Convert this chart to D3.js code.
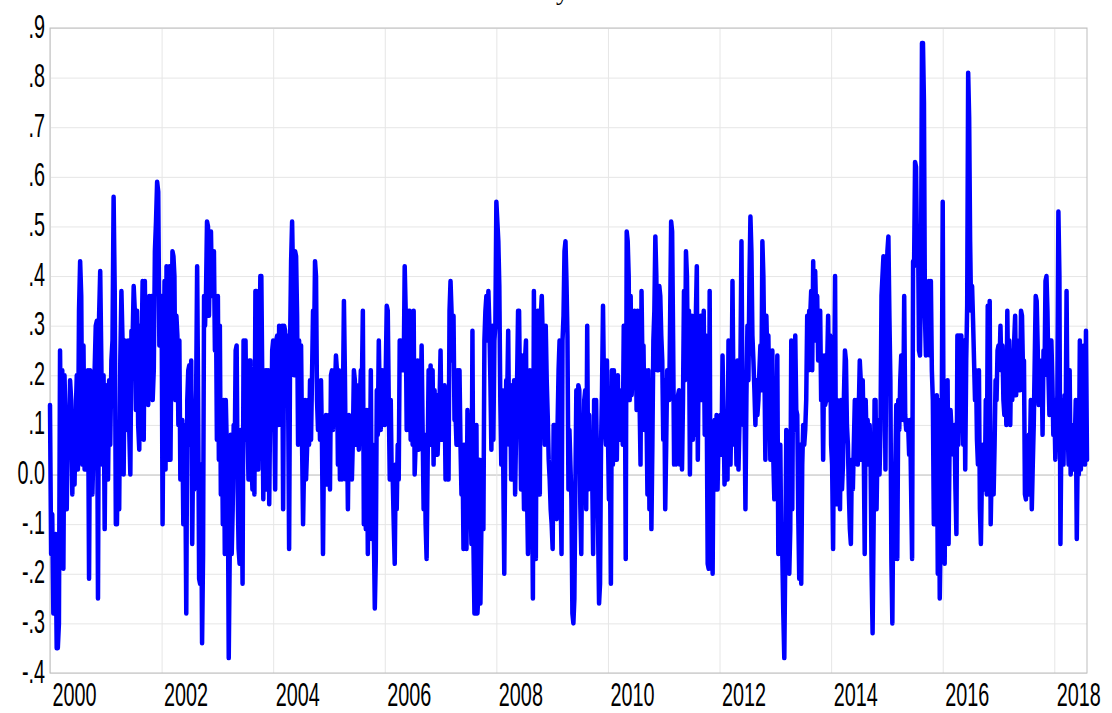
<!DOCTYPE html>
<html><head><meta charset="utf-8">
<script src="https://cdn.jsdelivr.net/npm/d3@7"></script>
<style>
html,body{margin:0;padding:0;background:#fff;}
svg{display:block;}
</style></head>
<body>
<svg id="chart" width="1112" height="713"></svg>
<script>
// ---- data ----
const yTicks = [0.9,0.8,0.7,0.6,0.5,0.4,0.3,0.2,0.1,0.0,-0.1,-0.2,-0.3,-0.4];
const yTickLabels = [".9",".8",".7",".6",".5",".4",".3",".2",".1","0.0","-.1","-.2","-.3","-.4"];
const xTickYears = [2000,2002,2004,2006,2008,2010,2012,2014,2016,2018];
const xTickLabels = ["2000","2002","2004","2006","2008","2010","2012","2014","2016","2018"];
const seriesStart = 2000.0;
const seriesEnd = 2018.586;
const titleText = "y";

// values, evenly spaced within each two-year block (roughly weekly)
const v2000 = [0.14,-0.16,-0.08,-0.28,-0.16,-0.12,-0.35,-0.35,-0.30,0.25,0.02,0.21,-0.19,0.20,0.10,-0.07,0.10,0.05,0.19,0.15,-0.04,0.11,-0.02,0.12,0.20,0.01,0.33,0.43,0.36,0.02,0.26,0.01,0.20,0.05,0.21,-0.21,0.21,0.20,-0.04,0.06,0.21,0.30,0.31,-0.25,0.32,0.41,0.23,0.02,0.20,-0.11,0.17,0.18,-0.01,0.19,0.06,0.23,0.27,0.56,0.37,-0.10,-0.10,0.09,-0.07,0.23,0.37,0.27,0.00,0.27,0.15,0.09,0.27,0.09,0.00,0.29,0.27,0.38,0.33,0.13,0.33,0.10,0.05,0.30,0.24,0.39,0.07,0.39,0.15,0.32,0.14,0.36,0.16,0.36,0.15,0.21,0.45,0.51,0.59,0.57,0.26,0.36];
const v2002 = [0.36,-0.10,0.19,0.39,0.01,0.42,0.40,0.03,0.42,0.03,0.28,0.45,0.44,0.40,0.15,0.32,0.28,0.10,0.27,-0.01,0.11,0.11,-0.10,0.10,0.02,-0.28,0.15,0.21,0.22,0.06,0.23,-0.14,0.06,-0.03,0.09,0.17,0.42,0.15,-0.21,-0.22,0.02,-0.34,-0.16,0.36,0.30,0.37,0.51,0.50,0.32,0.44,0.49,0.36,0.37,0.45,0.25,0.36,0.07,0.36,0.03,0.30,-0.04,0.12,-0.10,0.15,-0.16,0.15,0.06,0.01,-0.37,-0.16,0.08,-0.16,-0.07,0.10,0.03,0.25,0.26,-0.03,-0.15,-0.18,0.09,0.01,-0.22,0.27,0.15,0.27,0.07,0.09,-0.01,0.23,0.23,0.03,-0.03,0.07,-0.04,0.37,0.37,0.15,0.01,0.21,0.40,0.40,0.18,-0.05,0.21,-0.03,0.21,-0.02,0.21,-0.06,0.15,0.09,0.25];
const v2004 = [0.27,0.13,-0.03,0.27,0.28,0.10,0.30,0.27,0.10,0.30,-0.07,0.30,0.29,0.15,0.28,0.16,-0.15,0.27,0.43,0.51,0.39,0.20,0.45,0.44,0.32,0.06,0.27,0.21,0.26,0.06,-0.10,0.02,0.15,-0.01,0.05,0.15,0.06,0.19,0.07,0.20,0.33,0.25,0.43,0.40,0.15,0.09,0.18,0.07,0.19,0.06,-0.16,0.06,0.02,0.12,-0.02,0.02,0.12,-0.03,0.20,0.21,0.09,0.21,0.17,0.24,0.21,0.02,0.21,-0.01,0.10,-0.01,0.15,0.35,0.20,-0.01,0.11,-0.07,0.12,0.09,0.11,-0.01,0.07,0.21,0.19,0.06,0.18,0.11,0.05,0.15,0.21,0.18,0.33,-0.10,-0.01,-0.11,0.13,-0.16,0.11,-0.03,0.21,-0.13,0.06,-0.11,-0.27,-0.17,0.17,0.08,0.27,0.15,0.09,0.21,0.12,0.21];
const v2006 = [0.10,0.21,0.34,0.33,0.15,-0.01,0.15,-0.01,-0.01,-0.10,-0.18,0.02,-0.07,0.06,-0.01,0.27,0.27,0.21,0.27,0.21,0.42,0.33,0.09,0.33,0.09,0.33,0.07,0.15,0.06,0.33,0.00,0.06,0.13,0.23,0.05,0.22,0.13,0.26,0.09,-0.07,0.08,-0.10,-0.17,0.02,0.21,0.13,0.22,0.06,0.21,0.02,0.17,0.06,0.16,0.04,0.10,0.15,0.25,0.07,0.17,0.07,0.18,-0.01,0.15,-0.01,-0.01,0.33,0.39,0.33,0.23,0.32,0.11,0.12,0.06,0.21,0.06,0.21,0.06,-0.04,0.06,-0.15,0.06,0.02,-0.15,0.13,-0.04,0.12,-0.05,-0.14,0.29,-0.14,-0.28,-0.13,0.10,-0.28,-0.24,0.03,-0.26,-0.10,0.03,-0.11,0.27,0.33,0.36,0.27,0.37,0.30,0.19,0.05,0.30,0.07,0.27,0.30];
const v2008 = [0.55,0.51,0.47,0.38,0.15,0.02,0.17,0.01,-0.20,0.06,0.19,0.16,0.29,0.06,0.18,-0.01,0.18,-0.01,0.19,-0.04,0.09,0.19,0.33,0.33,0.15,-0.03,0.24,0.07,-0.07,0.23,0.27,-0.03,-0.16,0.06,0.21,0.13,0.01,-0.25,0.37,0.06,-0.17,0.32,0.33,0.16,-0.04,0.32,0.36,0.27,0.15,0.06,0.30,0.19,0.12,0.03,-0.01,-0.07,-0.10,-0.15,0.10,0.10,-0.04,-0.09,0.10,0.21,0.27,-0.03,-0.16,0.27,0.32,0.45,0.47,0.39,0.28,-0.03,0.09,0.02,-0.05,-0.28,-0.30,-0.25,-0.03,0.17,0.02,0.18,0.17,-0.06,-0.16,0.10,0.03,0.15,0.17,-0.07,0.30,-0.03,0.12,-0.01,0.08,0.01,-0.16,0.15,-0.01,0.15,0.01,-0.11,-0.26,-0.22,0.06,0.17,0.34,0.17,0.10,0.06,0.23];
const v2010 = [0.08,-0.05,0.03,-0.22,0.21,0.02,0.21,0.06,0.19,0.03,0.20,0.07,0.15,0.07,0.17,0.06,0.30,0.27,-0.17,0.49,0.47,0.40,0.15,0.36,0.16,0.21,0.25,0.33,0.32,0.13,0.33,0.23,0.15,0.02,0.37,0.21,0.26,0.09,0.21,0.13,-0.04,0.21,-0.07,0.19,-0.11,0.06,0.27,0.33,0.48,0.40,0.21,0.21,0.38,0.36,0.28,0.23,0.07,0.19,-0.07,0.06,0.21,0.18,0.15,0.32,0.51,0.49,0.27,0.02,0.04,0.02,0.03,0.16,0.17,0.02,0.16,0.01,0.15,0.37,0.19,0.45,0.40,0.21,0.33,0.00,0.23,0.32,0.07,0.24,0.08,0.32,0.42,0.03,0.27,0.15,0.32,0.32,0.15,0.33,0.08,0.28,0.15,-0.18,-0.19,0.37,-0.18,0.06,-0.20,0.09,0.11,-0.03,0.12,-0.03,0.08];
const v2012 = [0.06,0.12,0.04,0.24,0.13,-0.02,0.02,0.10,-0.01,0.27,0.10,0.02,0.15,0.39,0.15,0.06,0.15,0.02,0.23,0.01,0.10,0.23,0.47,0.16,0.10,0.15,-0.07,0.16,0.30,0.19,0.39,0.52,0.45,0.28,0.23,0.17,0.10,0.19,0.12,0.15,0.21,0.26,0.17,0.47,0.40,0.23,0.03,0.32,0.23,0.28,0.15,0.03,0.18,0.25,0.03,-0.05,0.18,0.06,0.24,-0.16,-0.03,0.06,-0.16,-0.16,-0.28,-0.37,-0.16,0.09,-0.18,0.08,-0.20,-0.11,0.27,-0.07,0.26,0.09,0.28,0.13,0.12,-0.08,-0.21,0.06,-0.22,0.02,0.10,0.06,0.09,0.15,0.32,0.21,0.33,0.32,0.37,0.21,0.43,0.27,0.41,0.32,0.36,0.23,0.23,0.33,0.15,0.22,0.03,0.24,0.14,0.15,0.22,0.32,0.15,0.28];
const v2014 = [0.06,0.02,-0.15,0.15,0.40,-0.06,0.15,-0.03,0.02,-0.07,0.15,-0.03,0.02,0.16,0.25,0.23,0.10,0.06,-0.04,-0.11,-0.14,0.03,-0.03,0.06,0.15,0.06,0.15,0.02,0.13,0.23,0.19,0.03,0.19,0.06,-0.16,0.15,0.06,0.11,0.02,0.10,0.02,-0.20,-0.32,-0.11,0.15,0.15,-0.07,0.06,0.11,0.00,0.09,0.36,0.40,0.44,0.29,0.01,0.30,0.45,0.48,0.32,0.19,-0.17,-0.30,-0.04,-0.17,0.02,0.14,-0.17,0.15,0.09,0.19,0.24,0.15,0.11,0.36,0.12,0.09,0.11,0.10,0.04,0.11,-0.03,-0.17,0.43,0.42,0.63,0.62,0.44,0.49,0.25,0.24,0.40,0.87,0.87,0.75,0.32,0.24,0.36,0.25,0.39,0.24,0.39,0.21,0.15,-0.10,-0.10,0.06,0.16,-0.20,0.15,-0.25,-0.11,0.11];
const v2016 = [0.55,-0.01,-0.18,0.06,0.08,0.19,-0.14,0.06,0.13,0.09,0.10,0.04,0.10,-0.03,-0.12,0.28,0.06,0.28,0.09,0.28,0.15,0.06,0.27,0.01,0.23,0.34,0.81,0.72,0.47,0.33,0.38,0.31,0.23,0.15,0.21,0.07,0.02,0.21,-0.07,-0.14,-0.01,0.06,0.02,-0.03,0.15,-0.04,0.34,0.15,0.35,-0.10,0.01,-0.03,-0.04,0.06,0.19,0.15,0.25,0.26,0.22,0.30,0.21,0.26,0.15,0.12,0.23,0.10,0.33,0.16,0.27,0.10,0.25,0.15,0.20,0.27,0.32,0.16,0.27,0.19,0.23,0.17,0.33,0.32,0.21,0.23,-0.04,-0.05,0.06,-0.04,0.08,0.03,0.15,-0.07,0.02,0.10,0.23,0.36,0.35,0.26,0.14,0.15,0.17,0.23,0.08,0.25,0.20,0.39,0.40,0.33,0.20,0.12,0.27,0.27,0.19,0.08];
const v2018 = [0.15,0.03,0.10,0.16,0.53,0.40,-0.14,0.10,0.15,0.02,0.16,0.06,0.37,0.10,0.02,0.21,0.00,0.04,0.01,0.10,0.06,0.15,-0.13,0.06,0.00,0.27,0.01,0.15,0.04,0.26,0.02,0.29,0.03];

const blockStarts = [2000,2002,2004,2006,2008,2010,2012,2014,2016,2018];
const blockValues = [v2000,v2002,v2004,v2006,v2008,v2010,v2012,v2014,v2016,v2018];

// ---- build series ----
const series = [];
blockValues.forEach((vals, b) => {
  const s = blockStarts[b];
  const last = b === blockValues.length - 1;
  const span = last ? seriesEnd - s : 2;
  const n = vals.length;
  vals.forEach((v, i) => {
    series.push({t: s + span * i / (last ? n - 1 : n), v: v});
  });
});

// ---- layout ----
const svg = d3.select("#chart");
const L = 50, R = 1087, T = 28, B = 673;
const x = d3.scaleLinear().domain([seriesStart, seriesEnd]).range([L, R]);
const y = d3.scaleLinear().domain([-0.4, 0.9]).range([B, T]);
const FONT = "'Liberation Sans', Arial, sans-serif";

// horizontal gridlines
const gy = svg.append("g").attr("transform", `translate(${L},0)`)
  .call(d3.axisLeft(y).tickValues(yTicks).tickSize(-(R - L)).tickFormat(""));
gy.select(".domain").remove();
gy.selectAll(".tick line")
  .attr("stroke", d => Math.abs(d) < 1e-9 ? "#b8b8b8" : "#e6e6e6")
  .attr("stroke-width", 1);

// vertical gridlines
const gx = svg.append("g").attr("transform", `translate(0,${B})`)
  .call(d3.axisBottom(x).tickValues(xTickYears).tickSize(-(B - T)).tickFormat(""));
gx.select(".domain").remove();
gx.selectAll(".tick line").attr("stroke", "#e6e6e6").attr("stroke-width", 1);

// frame
svg.append("rect").attr("x", L).attr("y", T).attr("width", R - L).attr("height", B - T)
  .attr("fill", "none").attr("stroke", "#bdbdbd").attr("stroke-width", 1);

// line
const line = d3.line().x(d => x(d.t)).y(d => y(d.v));
svg.append("path").datum(series)
  .attr("d", line)
  .attr("fill", "none")
  .attr("stroke", "#0000ff")
  .attr("stroke-width", 4.5)
  .attr("stroke-linejoin", "round")
  .attr("stroke-linecap", "round");

// y labels
const ay = svg.append("g").attr("transform", `translate(${L},0)`)
  .call(d3.axisLeft(y).tickValues(yTicks).tickSize(0).tickFormat((d, i) => yTickLabels[i]));
ay.select(".domain").remove();
ay.selectAll(".tick text")
  .attr("x", 0).attr("dy", null)
  .attr("transform", "translate(-5,9) scale(0.6,1)")
  .attr("text-anchor", "end")
  .attr("fill", "#000")
  .style("font-family", FONT).style("font-size", "33px");

// x labels
const ax = svg.append("g").attr("transform", `translate(0,${B})`)
  .call(d3.axisBottom(x).tickValues(xTickYears).tickSize(0).tickFormat((d, i) => xTickLabels[i]));
ax.select(".domain").remove();
ax.selectAll(".tick text")
  .attr("y", 0).attr("dy", null)
  .attr("transform", "translate(2,33) scale(0.6,1)")
  .attr("text-anchor", "start")
  .attr("fill", "#000")
  .style("font-family", FONT).style("font-size", "33px");

// title (cut off at top in the reference, only a descender shows)
svg.append("text").attr("x", 556).attr("y", 0)
  .attr("fill", "#000").style("font-family", "'Liberation Serif', serif").style("font-size", "26px")
  .text(titleText);
</script>
</body></html>
